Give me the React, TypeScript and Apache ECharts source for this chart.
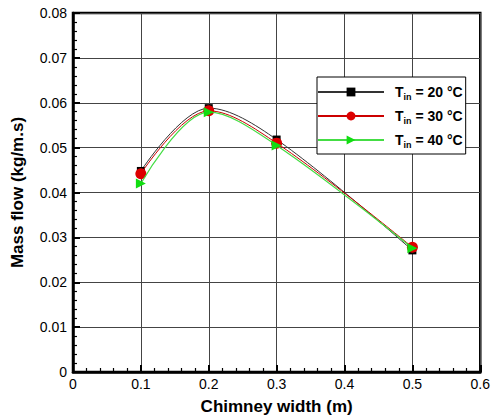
import React, { useEffect, useRef } from "react";
import * as echarts from "echarts";

const xValues = [0.1, 0.2, 0.3, 0.5];
const series20 = [0.0448, 0.0588, 0.0518, 0.0271];
const series30 = [0.0442, 0.0582, 0.051, 0.0278];
const series40 = [0.042, 0.0579, 0.0505, 0.0276];
const seriesNames = ["T_in = 20 °C", "T_in = 30 °C", "T_in = 40 °C"];
const legendTemps = ["20", "30", "40"];

const FONT = "Liberation Sans, Arial, Helvetica, sans-serif";

export default function App() {
  const ref = useRef<HTMLDivElement>(null);
  useEffect(() => {
    document.body.style.margin = "0";
    const chart = echarts.init(ref.current!, null, { renderer: "svg" });
    const mk = (vals: number[]) => xValues.map((x, i) => [x, vals[i]]);
    const fmt = (v: number) => (v === 0 ? "0" : String(+v.toFixed(2)));
    chart.setOption({
      animation: false,
      backgroundColor: "#fff",
      textStyle: { fontFamily: FONT },
      grid: {
        left: 73,
        right: 11,
        top: 13,
        bottom: 35,
        show: true,
        borderColor: "#000",
        borderWidth: 2.5,
        backgroundColor: "transparent",
      },
      legend: {
        orient: "vertical",
        left: 317,
        top: 77,
        padding: [6, 3, 5, 0],
        itemGap: 6,
        itemWidth: 66,
        itemHeight: 11,
        backgroundColor: "#fff",
        borderColor: "#000",
        borderWidth: 1,
        data: seriesNames,
        formatter: (name: string) => {
          const i = seriesNames.indexOf(name);
          return `{b|T}{s|in}{b| = ${legendTemps[i]} °C}`;
        },
        textStyle: {
          padding: [0, 0, 0, 6],
          rich: {
            b: { fontSize: 14, fontWeight: "bold", color: "#000", fontFamily: FONT, lineHeight: 16 },
            s: { fontSize: 9, fontWeight: "bold", color: "#000", fontFamily: FONT, padding: [9, 0, 0, 0], lineHeight: 16 },
          },
        },
      },
      xAxis: {
        type: "value",
        min: 0,
        max: 0.6,
        interval: 0.1,
        name: "Chimney width (m)",
        nameLocation: "middle",
        nameGap: 26,
        nameTextStyle: { fontSize: 17, fontWeight: "bold", color: "#000", fontFamily: FONT },
        axisLine: { show: true, lineStyle: { color: "#000", width: 2.5 } },
        axisTick: { show: true, inside: true, length: 7, lineStyle: { color: "#000", width: 2 } },
        minorTick: { show: true, splitNumber: 5, length: 4, lineStyle: { color: "#000", width: 1.2 } },
        axisLabel: { fontSize: 14, color: "#000", margin: 5, formatter: fmt, fontFamily: FONT },
        splitLine: { show: true, lineStyle: { color: "#444", width: 1 } },
      },
      yAxis: {
        type: "value",
        min: 0,
        max: 0.08,
        interval: 0.01,
        name: "Mass flow (kg/m.s)",
        nameLocation: "middle",
        nameGap: 47,
        nameTextStyle: { fontSize: 17, fontWeight: "bold", color: "#000", fontFamily: FONT },
        axisLine: { show: true, lineStyle: { color: "#000", width: 2.5 } },
        axisTick: { show: true, inside: true, length: 7, lineStyle: { color: "#000", width: 2 } },
        minorTick: { show: true, splitNumber: 5, length: 4, lineStyle: { color: "#000", width: 1.2 } },
        axisLabel: { fontSize: 14, color: "#000", margin: 6, formatter: fmt, fontFamily: FONT },
        splitLine: { show: true, lineStyle: { color: "#444", width: 1 } },
      },
      series: [
        {
          name: seriesNames[0],
          type: "line",
          data: mk(series20),
          smooth: 0.35,
          symbol: "rect",
          symbolSize: 8,
          color: "#000",
          lineStyle: { color: "#333", width: 1 },
          itemStyle: { color: "#000" },
          z: 3,
        },
        {
          name: seriesNames[1],
          type: "line",
          data: mk(series30),
          smooth: 0.35,
          symbol: "circle",
          symbolSize: 11,
          color: "#dd0000",
          lineStyle: { color: "#cc0000", width: 1 },
          itemStyle: { color: "#dd0000" },
          z: 4,
        },
        {
          name: seriesNames[2],
          type: "line",
          data: mk(series40),
          smooth: 0.35,
          symbol: "triangle",
          symbolRotate: -90,
          symbolSize: 10,
          color: "#22dd22",
          lineStyle: { color: "#44dd44", width: 1.2 },
          itemStyle: { color: "#11dd11" },
          z: 5,
        },
      ],
    });
    return () => chart.dispose();
  }, []);
  return <div ref={ref} style={{ width: 493, height: 420 }} />;
}
